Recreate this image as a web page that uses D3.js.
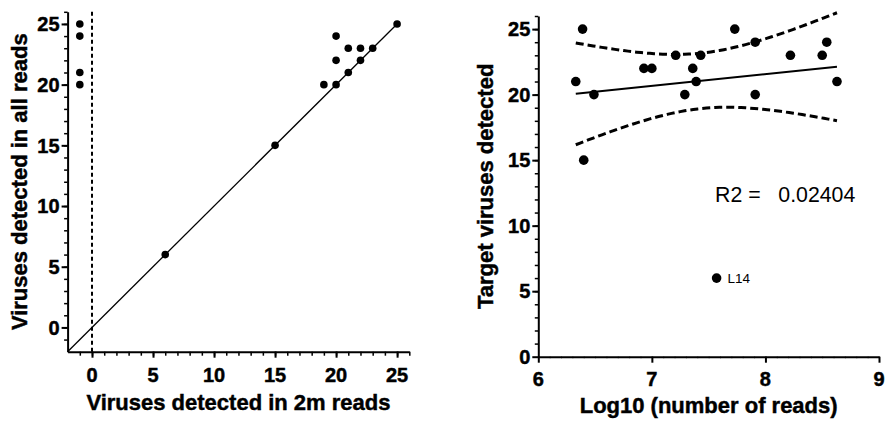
<!DOCTYPE html>
<html><head><meta charset="utf-8">
<script src="https://cdn.jsdelivr.net/npm/d3@7"></script>
<style>
body{margin:0;background:#fff}
svg{display:block}
text{font-family:"Liberation Sans",Arial,Helvetica,sans-serif}
text.b{font-weight:bold;stroke:#000;stroke-width:0.45px}
</style></head>
<body><svg id="c" width="885" height="425"></svg>
<script>
// ---- Left chart data ----
const leftX = [-1, -1, -1, -1, 6, 15, 19, 20, 20, 20, 21, 21, 22, 22, 23, 25];
const leftY = [25, 24, 21, 20, 6, 15, 20, 20, 22, 24, 21, 23, 22, 23, 23, 25];
const leftTicks = [0, 5, 10, 15, 20, 25];
const leftDomain = [-2, 26];

// ---- Right chart data ----
const rightX = [6.33, 6.39, 6.40, 6.49, 6.93, 7.00, 7.21, 7.29, 7.36, 7.39, 7.43, 7.73, 7.91, 7.91, 8.22, 8.50, 8.54, 8.63, 7.57];
const rightY = [21, 25, 15, 20, 22, 22, 23, 20, 22, 21, 23, 25, 24, 20, 23, 23, 24, 21, 6];
const rightNames = ["", "", "", "", "", "", "", "", "", "", "", "", "", "", "", "", "", "", "L14"];
const rightXTicks = [6, 7, 8, 9];
const rightYTicks = [0, 5, 10, 15, 20, 25];
const r2Label = "R2 =   0.02404";
const tCrit = 2.1098; // t(0.975, df = 17)

const TICK_FS = 20, TITLE_FS = 22;
const svg = d3.select("#c");

function styleAxis(g) {
  g.select(".domain").attr("stroke", "#000").attr("stroke-width", 2);
  g.selectAll(".tick line").attr("stroke", "#000").attr("stroke-width", 2);
}
function minorAxis(g, stroke) {
  g.select(".domain").remove();
  g.selectAll(".tick line").attr("stroke", "#000").attr("stroke-width", stroke || 1.5);
}
function xLabels(g, x, vals, yBase) {
  g.append("g").selectAll("text").data(vals).join("text").attr("class", "b")
    .attr("x", d => x(d)).attr("y", yBase).attr("text-anchor", "middle")
    .attr("font-size", TICK_FS).text(d => d);
}
function yLabels(g, y, vals, xRight) {
  g.append("g").selectAll("text").data(vals).join("text").attr("class", "b")
    .attr("x", xRight).attr("y", d => y(d) + TICK_FS * 0.36).attr("text-anchor", "end")
    .attr("font-size", TICK_FS).text(d => d);
}

// ================= LEFT =================
{
  const x = d3.scaleLinear().domain(leftDomain).range([67.6, 409.3]);
  const y = d3.scaleLinear().domain(leftDomain).range([351.7, 11.8]);
  const g = svg.append("g");

  g.append("g").attr("transform", `translate(0,${y(-2)})`)
    .call(d3.axisBottom(x).tickValues(d3.range(-1, 27, 1)).tickSize(4).tickFormat(""))
    .call(a => minorAxis(a));
  g.append("g").attr("transform", `translate(${x(-2)},0)`)
    .call(d3.axisLeft(y).tickValues(d3.range(-1, 27, 1)).tickSize(3.5).tickFormat(""))
    .call(a => minorAxis(a));

  g.append("g").attr("transform", `translate(0,${y(-2)})`)
    .call(d3.axisBottom(x).tickValues(leftTicks).tickFormat("").tickSize(6).tickSizeOuter(0))
    .call(styleAxis);
  g.append("g").attr("transform", `translate(${x(-2)},0)`)
    .call(d3.axisLeft(y).tickValues(leftTicks).tickFormat("").tickSize(6).tickSizeOuter(0))
    .call(styleAxis);
  xLabels(g, x, leftTicks, y(-2) + 30);
  yLabels(g, y, leftTicks, x(-2) - 8);

  g.append("line").attr("x1", x(-2)).attr("y1", y(-2)).attr("x2", x(25)).attr("y2", y(25))
    .attr("stroke", "#000").attr("stroke-width", 1.3);
  g.append("line").attr("x1", x(0)).attr("x2", x(0)).attr("y1", y(26)).attr("y2", y(-2))
    .attr("stroke", "#000").attr("stroke-width", 2).attr("stroke-dasharray", "4,3");

  g.selectAll("circle.l").data(leftX.map((v, i) => [v, leftY[i]])).join("circle")
    .attr("cx", d => x(d[0])).attr("cy", d => y(d[1])).attr("r", 3.8).attr("fill", "#000");

  g.append("text").attr("class", "b").attr("x", (x(-2) + x(26)) / 2).attr("y", 410).attr("text-anchor", "middle")
    .attr("font-size", TITLE_FS).text("Viruses detected in 2m reads");
  g.append("text").attr("class", "b").attr("transform", `translate(27,${(y(-2) + y(26)) / 2}) rotate(-90)`)
    .attr("text-anchor", "middle").attr("font-size", TITLE_FS)
    .text("Viruses detected in all reads");
}

// ================= RIGHT =================
{
  const x = d3.scaleLinear().domain([6, 9]).range([538.3, 879]);
  const y = d3.scaleLinear().domain([0, 26]).range([356.7, 16]);
  const g = svg.append("g");

  g.append("g").attr("transform", `translate(0,${y(0)})`)
    .call(d3.axisBottom(x).tickValues(d3.range(6.1, 9, 0.1)).tickSize(1.5).tickFormat(""))
    .call(a => minorAxis(a, 1));
  g.append("g").attr("transform", `translate(${x(6)},0)`)
    .call(d3.axisLeft(y).tickValues(d3.range(1, 27, 1)).tickSize(3.5).tickFormat(""))
    .call(a => minorAxis(a));

  g.append("g").attr("transform", `translate(0,${y(0)})`)
    .call(d3.axisBottom(x).tickValues(rightXTicks).tickFormat("").tickSize(6).tickSizeOuter(0))
    .call(styleAxis);
  g.append("g").attr("transform", `translate(${x(6)},0)`)
    .call(d3.axisLeft(y).tickValues(rightYTicks).tickFormat("").tickSize(6).tickSizeOuter(0))
    .call(styleAxis);
  xLabels(g, x, rightXTicks, y(0) + 29.5);
  yLabels(g, y, rightYTicks, x(6) - 8);

  // linear regression with 95% confidence band
  const n = rightX.length;
  const mx = d3.mean(rightX), my = d3.mean(rightY);
  let sxx = 0, sxy = 0, syy = 0;
  for (let i = 0; i < n; i++) {
    const dx = rightX[i] - mx, dy = rightY[i] - my;
    sxx += dx * dx; sxy += dx * dy; syy += dy * dy;
  }
  const b = sxy / sxx, a0 = my - b * mx;
  const sse = syy - b * sxy;
  const s = Math.sqrt(sse / (n - 2));
  const [xmin, xmax] = d3.extent(rightX);
  const xs = d3.range(0, 61).map(i => xmin + (xmax - xmin) * i / 60);
  const fit = v => a0 + b * v;
  const hw = v => tCrit * s * Math.sqrt(1 / n + (v - mx) * (v - mx) / sxx);
  const line = d3.line().x(d => x(d[0])).y(d => y(d[1]));

  g.append("path").attr("d", line([[xmin, fit(xmin)], [xmax, fit(xmax)]]))
    .attr("fill", "none").attr("stroke", "#000").attr("stroke-width", 2);
  g.append("path").attr("d", line(xs.map(v => [v, fit(v) + hw(v)])))
    .attr("fill", "none").attr("stroke", "#000").attr("stroke-width", 3).attr("stroke-dasharray", "8,4");
  g.append("path").attr("d", line(xs.map(v => [v, fit(v) - hw(v)])))
    .attr("fill", "none").attr("stroke", "#000").attr("stroke-width", 3).attr("stroke-dasharray", "8,4");

  g.selectAll("circle.r").data(rightX.map((v, i) => [v, rightY[i], rightNames[i]])).join("circle")
    .attr("cx", d => x(d[0])).attr("cy", d => y(d[1])).attr("r", 4.8).attr("fill", "#000");
  g.selectAll("text.pl").data(rightX.map((v, i) => [v, rightY[i], rightNames[i]]).filter(d => d[2]))
    .join("text").attr("x", d => x(d[0]) + 11).attr("y", d => y(d[1]) + 4.7)
    .attr("font-size", 13.5).text(d => d[2]);

  g.append("text").attr("x", 715).attr("y", 201.7).attr("font-size", 21.3)
    .style("white-space", "pre").text(r2Label);

  g.append("text").attr("class", "b").attr("x", (x(6) + x(9)) / 2).attr("y", 413).attr("text-anchor", "middle")
    .attr("font-size", TITLE_FS).text("Log10 (number of reads)");
  g.append("text").attr("class", "b").attr("transform", `translate(493,${(y(0) + y(26)) / 2}) rotate(-90)`)
    .attr("text-anchor", "middle").attr("font-size", TITLE_FS)
    .text("Target viruses detected");
}
</script></body></html>
